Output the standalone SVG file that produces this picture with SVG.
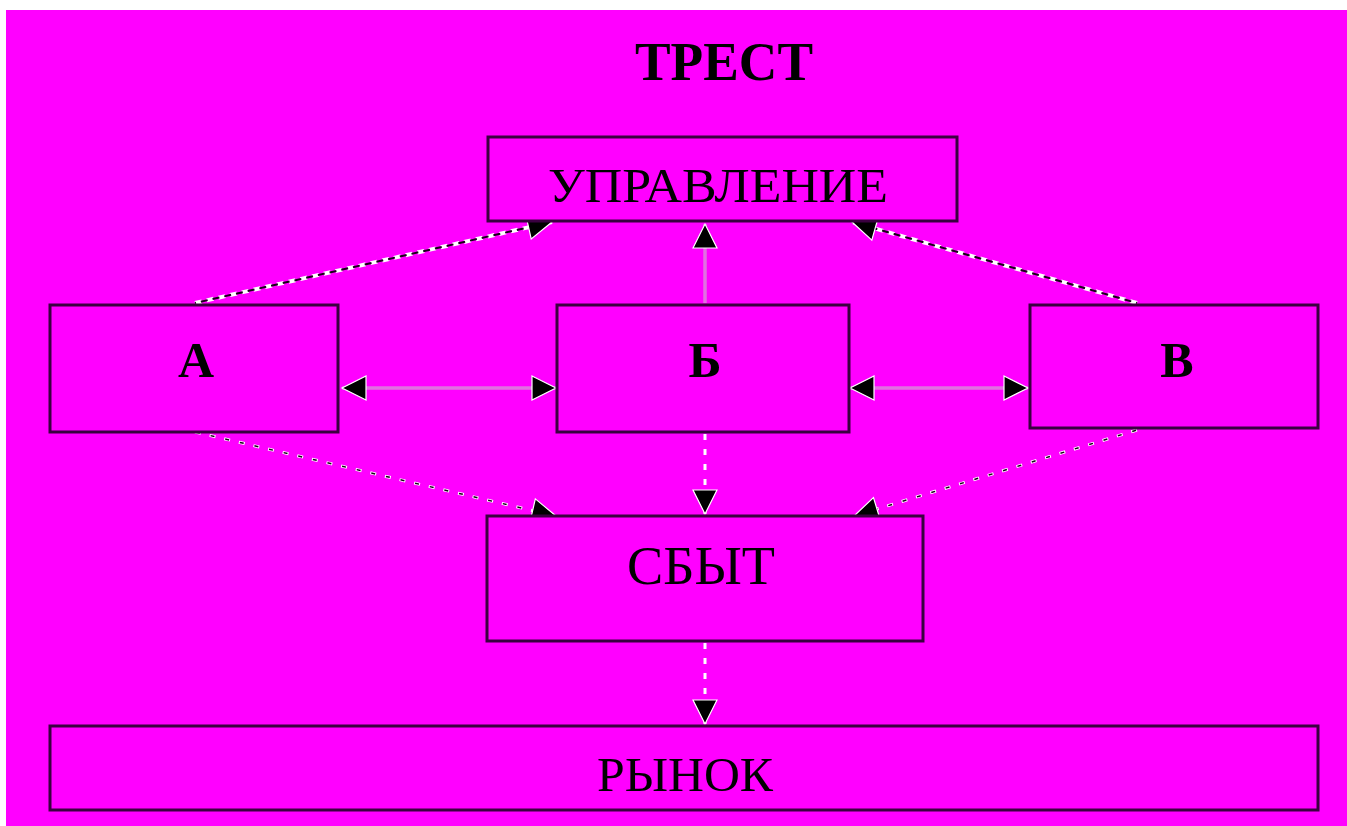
<svg xmlns="http://www.w3.org/2000/svg" width="1347" height="826" viewBox="0 0 1347 826">
<defs>
<style>
.box{fill:#FF00FF;stroke:#3a0040;stroke-width:3}
.lbl{font-family:"Liberation Serif","Times New Roman",serif;fill:#000;text-anchor:middle}
.b{font-weight:bold}
.solid{stroke:#e070e0;stroke-width:3.5;fill:none}
.dw{stroke:#ffffff;stroke-width:4;fill:none;stroke-dasharray:7 5}
.db{stroke:#1a001a;stroke-width:2;fill:none;stroke-dasharray:7 5}
.sw{stroke:#ffffff;stroke-width:3;fill:none;stroke-dasharray:6 9}
.sb{stroke:#1a001a;stroke-width:1.5;fill:none;stroke-dasharray:4 11}
</style>
<marker id="ah" markerUnits="userSpaceOnUse" markerWidth="30" markerHeight="28" viewBox="0 0 30 28" refX="26" refY="14" orient="auto-start-reverse">
<path d="M2,2 L26,14 L2,26 Z" fill="#000" stroke="#fff" stroke-width="1.2"/>
</marker>
</defs>
<rect x="0" y="0" width="1347" height="826" fill="#ffffff"/>
<rect x="6" y="10" width="1341" height="816" fill="#FF00FF"/>
<text class="lbl b" x="724" y="80" font-size="54" textLength="178" lengthAdjust="spacingAndGlyphs">ТРЕСТ</text>
<g id="connectors">
<line class="solid" x1="705" y1="303" x2="705" y2="224" marker-end="url(#ah)"/>
<line class="solid" x1="342" y1="388" x2="556" y2="388" marker-start="url(#ah)" marker-end="url(#ah)"/>
<line class="solid" x1="850" y1="388" x2="1028" y2="388" marker-start="url(#ah)" marker-end="url(#ah)"/>
<g>
<line class="dw" x1="195" y1="303" x2="552" y2="222"/>
<line class="db" x1="195" y1="303" x2="552" y2="222" stroke-dashoffset="6"/>
<line x1="195" y1="303" x2="552" y2="222" stroke="none" marker-end="url(#ah)"/>
</g>
<g>
<line class="dw" x1="1137" y1="303" x2="852" y2="222"/>
<line class="db" x1="1137" y1="303" x2="852" y2="222" stroke-dashoffset="6"/>
<line x1="1137" y1="303" x2="852" y2="222" stroke="none" marker-end="url(#ah)"/>
</g>
<g>
<line class="sw" x1="195" y1="432" x2="556" y2="516"/>
<line class="sb" x1="195" y1="432" x2="556" y2="516" stroke-dashoffset="-1"/>
<line x1="195" y1="432" x2="556" y2="516" stroke="none" marker-end="url(#ah)"/>
</g>
<g>
<line class="sw" x1="1137" y1="430" x2="854" y2="516"/>
<line class="sb" x1="1137" y1="430" x2="854" y2="516" stroke-dashoffset="-1"/>
<line x1="1137" y1="430" x2="854" y2="516" stroke="none" marker-end="url(#ah)"/>
</g>
<g>
<line class="sw" x1="705" y1="434" x2="705" y2="514"/>
<line x1="705" y1="434" x2="705" y2="514" stroke="none" marker-end="url(#ah)"/>
</g>
<g>
<line class="sw" x1="705" y1="643" x2="705" y2="724"/>
<line x1="705" y1="643" x2="705" y2="724" stroke="none" marker-end="url(#ah)"/>
</g>
</g>
<g id="upravlenie">
<rect class="box" x="488" y="137" width="469" height="84"/>
<text class="lbl" x="718" y="202" font-size="48" textLength="340" lengthAdjust="spacingAndGlyphs">УПРАВЛЕНИЕ</text>
</g>
<g id="a">
<rect class="box" x="50" y="305" width="288" height="127"/>
<text class="lbl b" x="196" y="377" font-size="50">А</text>
</g>
<g id="b">
<rect class="box" x="557" y="305" width="292" height="127"/>
<text class="lbl b" x="705" y="377" font-size="50">Б</text>
</g>
<g id="v">
<rect class="box" x="1030" y="305" width="288" height="123"/>
<text class="lbl b" x="1177" y="377" font-size="50">В</text>
</g>
<g id="sbyt">
<rect class="box" x="487" y="516" width="436" height="125"/>
<text class="lbl" x="701" y="584" font-size="54" textLength="148" lengthAdjust="spacingAndGlyphs">СБЫТ</text>
</g>
<g id="rynok">
<rect class="box" x="50" y="726" width="1268" height="84"/>
<text class="lbl" x="685" y="791" font-size="48" textLength="176" lengthAdjust="spacingAndGlyphs">РЫНОК</text>
</g>
</svg>
